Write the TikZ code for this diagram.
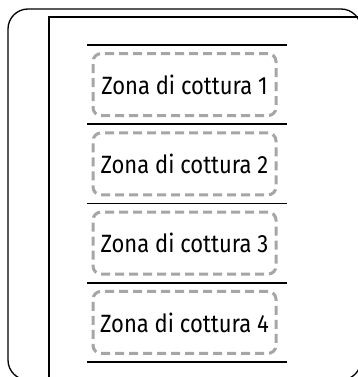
\documentclass[tikz,border=0pt]{standalone}
\usepackage{fontspec}
\setmainfont[FakeStretch=0.88]{Fira Sans}
\begin{document}
\begin{tikzpicture}[x=1pt,y=-1pt,
  zone/.style={draw=black!35, line width=3pt, dash pattern=on 9pt off 5pt,
    rounded corners=8pt, minimum width=183pt, minimum height=62pt,
    inner sep=0pt, font=\fontsize{25}{28}\selectfont, text=black},
  sep/.style={line width=1.6pt, black}]
\useasboundingbox (0,0) rectangle (358,377);
\clip (0,0) rectangle (358,377);
\draw[line width=1.3pt, rounded corners=20pt] (8,9) rectangle (361,380);
\draw[line width=1.8pt] (49,400) -- (49,17) -- (400,17);
\foreach \y [count=\i] in {45,124.25,203.5,282.75,362}{
  \coordinate (l\i a) at (87,\y);
  \coordinate (l\i b) at (287,\y);
  \draw[sep] (l\i a) -- (l\i b);
}
\node[zone] (z1) at (184.5,84.6) {Zona di cottura 1};
\node[zone] (z2) at (184.5,163.9) {Zona di cottura 2};
\node[zone] (z3) at (184.5,243.1) {Zona di cottura 3};
\node[zone] (z4) at (184.5,322.4) {Zona di cottura 4};
\end{tikzpicture}
\end{document}
